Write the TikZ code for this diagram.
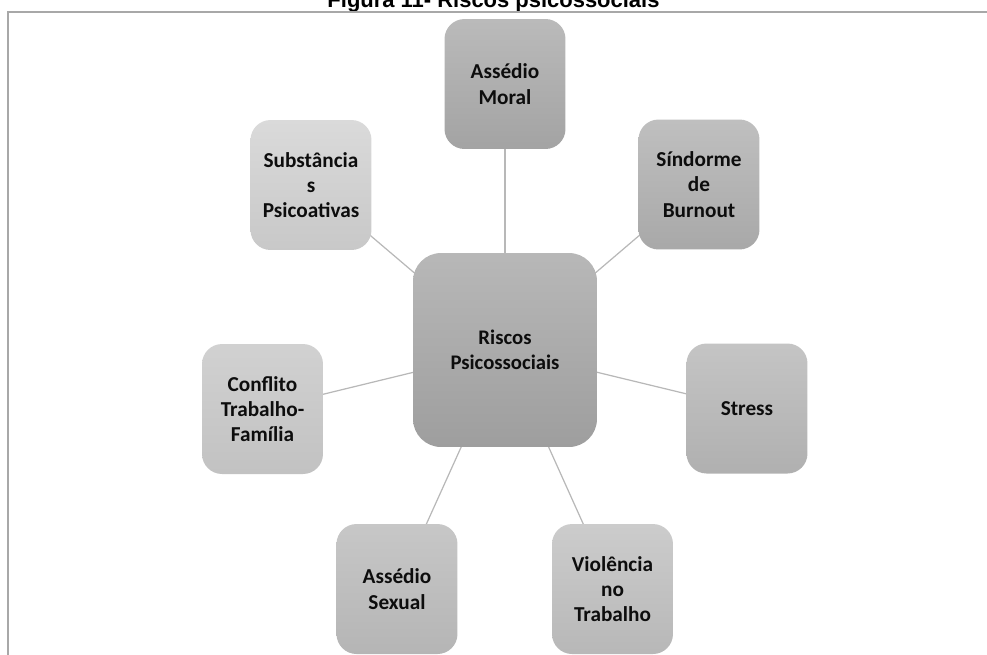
\documentclass[tikz,border=0pt]{standalone}
\usepackage{fontspec}
\setmainfont{Carlito}
\newfontfamily\titlefont{Liberation Sans}
\usetikzlibrary{backgrounds}
\definecolor{linha}{gray}{0.72}
\definecolor{moldura}{gray}{0.66}

\begin{document}
\begin{tikzpicture}[x=0.02cm, y=-0.02cm,
		risco/.style={rectangle, rounded corners=0.4cm, minimum width=2.42cm, minimum height=2.6cm, inner sep=0pt, align=center, text=black!95, font=\fontsize{12.1}{14.4}\selectfont\bfseries},
		ligacao/.style={draw=linha, line width=0.7pt}]
		\useasboundingbox(0, 0) rectangle (987, 654);
		\node[font=\titlefont\fontsize{12.5}{15}\selectfont\bfseries, anchor=base](titulo) at (493.5, 7){Figura 11- Riscos psicossociais};
		\draw[draw=moldura, line width=1.1pt](8, 12) rectangle (1000, 670);
		\node[risco, minimum width=3.68cm, minimum height=3.88cm, rounded corners=0.56cm, top color=black!28, bottom color=black!38, font=\fontsize{11.8}{14.4}\selectfont\bfseries](riscos) at (505, 350){Riscos\\Psicossociais};
		\node[risco, top color=black!27, bottom color=black!36](moral) at (505, 84){Assédio\\Moral};
		\node[risco, top color=black!25, bottom color=black!34](sindrome) at (699, 184.5){Síndorme\\de\\Burnout};
		\node[risco, top color=black!23, bottom color=black!31](stress) at (747, 408.5){Stress};
		\node[risco, top color=black!20, bottom color=black!28](violencia) at (612.5, 589){Violência\\no\\Trabalho};
		\node[risco, top color=black!22, bottom color=black!29](sexual) at (397, 589){Assédio\\Sexual};
		\node[risco, top color=black!18, bottom color=black!24](conflito) at (262.5, 409){Conflito\\Trabalho-\\Família};
		\node[risco, top color=black!14.5, bottom color=black!21.5](substancias) at (311, 185){Substância\\s\\Psicoativas};
		\begin{scope}[on background layer]
			\foreach \n in {moral, sindrome, stress, violencia, sexual, conflito, substancias}
				\draw[ligacao](riscos.center)--(\n.center);
		\end{scope}
	\end{tikzpicture}
\end{document}
